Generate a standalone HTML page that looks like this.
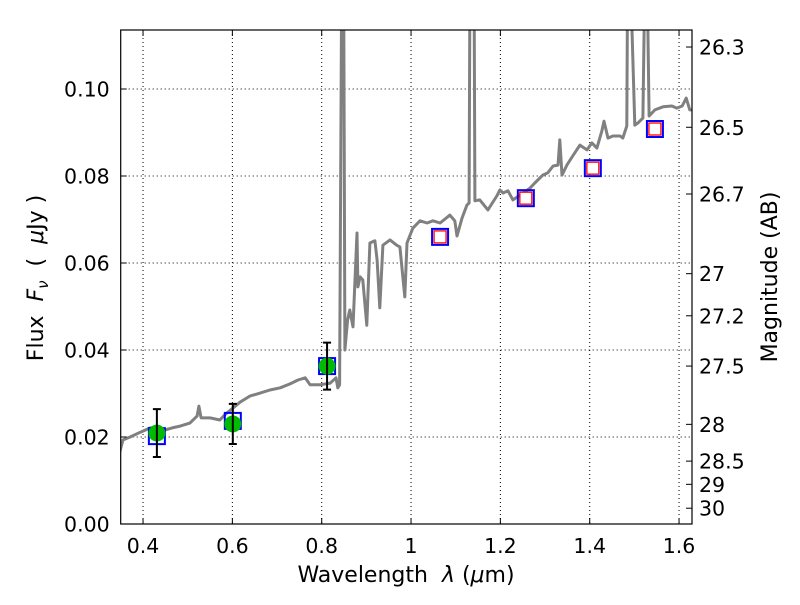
<!DOCTYPE html>
<html><head><meta charset="utf-8"><style>
body{margin:0;background:#fff}
svg text{font-family:"DejaVu Sans","Liberation Sans",sans-serif;fill:#000}
</style></head><body>
<svg id="chart" width="800" height="600" viewBox="0 0 800 600" xmlns="http://www.w3.org/2000/svg">
<defs><clipPath id="clip"><rect x="120.7" y="30" width="571.3" height="494"/></clipPath></defs>
<rect x="0" y="0" width="800" height="600" fill="#fff"/>
<g id="grid"></g>
<g id="plot" clip-path="url(#clip)"></g>
<rect x="120.7" y="30" width="571.3" height="494" fill="none" stroke="#000" stroke-width="1.2"/>
<g id="axes"></g>
<text x="406" y="582" font-size="22" text-anchor="middle" xml:space="preserve">Wavelength  <tspan font-style="italic">λ</tspan> (<tspan font-style="italic">μ</tspan>m)</text>
<text transform="translate(43,278) rotate(-90)" font-size="22" text-anchor="middle" xml:space="preserve">Flux  <tspan font-style="italic">F</tspan><tspan font-style="italic" font-size="15" dy="5">ν</tspan><tspan dy="-5">  (  </tspan><tspan font-style="italic">μ</tspan>Jy )</text>
<text transform="translate(777,277) rotate(-90)" font-size="22" text-anchor="middle">Magnitude (AB)</text>
</svg>
<script>
const specWave=[0.348,0.355,0.371,0.394,0.416,0.434,0.449,0.465,0.483,0.505,0.521,0.525,0.530,0.550,0.572,0.583,0.617,0.639,0.662,0.684,0.707,0.729,0.747,0.763,0.774,0.796,0.819,0.832,0.836,0.840,0.845,0.849,0.852,0.858,0.863,0.870,0.879,0.881,0.886,0.892,0.901,0.908,0.919,0.924,0.930,0.937,0.953,0.968,0.975,0.986,0.991,1.004,1.020,1.036,1.049,1.065,1.087,1.098,1.103,1.114,1.125,1.130,1.132,1.141,1.143,1.154,1.172,1.192,1.199,1.206,1.217,1.228,1.244,1.266,1.277,1.295,1.306,1.318,1.329,1.333,1.338,1.349,1.362,1.378,1.394,1.405,1.416,1.427,1.432,1.441,1.452,1.468,1.474,1.483,1.485,1.490,1.501,1.508,1.519,1.524,1.528,1.533,1.546,1.564,1.584,1.595,1.607,1.616,1.624,1.631];
const specFlux=[0.01655,0.0193,0.0200,0.0211,0.0221,0.0223,0.0216,0.0221,0.0225,0.0232,0.0248,0.0271,0.0244,0.0244,0.0239,0.0251,0.0280,0.0294,0.0301,0.0308,0.0313,0.0322,0.0331,0.0336,0.0320,0.0320,0.0324,0.0336,0.0313,0.0320,0.13,0.13,0.0400,0.0469,0.0492,0.0453,0.0669,0.0545,0.0568,0.0561,0.0457,0.0646,0.0651,0.0607,0.0497,0.0641,0.0653,0.0641,0.0637,0.0522,0.0646,0.0680,0.0697,0.0692,0.0697,0.0692,0.0710,0.0697,0.0662,0.0703,0.0733,0.0738,0.13,0.13,0.0743,0.0745,0.0722,0.0754,0.0768,0.0761,0.0766,0.0745,0.0756,0.0772,0.0784,0.0802,0.0807,0.0823,0.0825,0.0883,0.0802,0.0825,0.0846,0.0871,0.0860,0.0876,0.0864,0.0903,0.0926,0.0887,0.0892,0.0892,0.0887,0.0915,0.13,0.13,0.0917,0.0922,0.0933,0.13,0.13,0.0938,0.0952,0.0959,0.0961,0.0956,0.0961,0.0979,0.0952,0.0952];
const obsWave=[0.431,0.601,0.812];
const obsFlux=[0.0209,0.0230,0.0363];
const obsErr=[0.0055,0.0046,0.0054];
const modelWave=[0.431,0.601,0.812,1.065,1.257,1.407,1.546];
const modelFlux=[0.0202,0.0237,0.0363,0.066,0.0749,0.0818,0.0908];
const predWave=[1.065,1.257,1.407,1.546];
const predFlux=[0.066,0.0749,0.0818,0.0908];
const xTicks=[0.4,0.6,0.8,1.0,1.2,1.4,1.6];
const xTickLabels=["0.4","0.6","0.8","1","1.2","1.4","1.6"];
const yTicks=[0,0.02,0.04,0.06,0.08,0.10];
const yTickLabels=["0.00","0.02","0.04","0.06","0.08","0.10"];
const magTicks=[26.3,26.5,26.7,27,27.2,27.5,28,28.5,29,30];
const magTickLabels=["26.3","26.5","26.7","27","27.2","27.5","28","28.5","29","30"];

const NS="http://www.w3.org/2000/svg";
const L=120.7,R=692,T=30,B=524,X0=0.35,X1=1.629,Y0=0,Y1=0.11356;
const xs=v=>L+(v-X0)/(X1-X0)*(R-L);
const ys=v=>B-(v-Y0)/(Y1-Y0)*(B-T);
const magToFlux=m=>Math.pow(10,(23.9-m)/2.5);
function mk(tag,attrs,parent){const e=document.createElementNS(NS,tag);for(const k in attrs)e.setAttribute(k,attrs[k]);parent.appendChild(e);return e;}
const grid=document.getElementById('grid'),plot=document.getElementById('plot'),axes=document.getElementById('axes');

xTicks.forEach((v,i)=>{const x=xs(v);
 let g=mk('line',{x1:x,x2:x,y1:T,y2:B,stroke:'#000','stroke-width':1,'stroke-dasharray':'1,3'},grid);
 
 let t1=mk('line',{x1:x,x2:x,y1:B,y2:B-6,stroke:'#000','stroke-width':1},axes);
 
 let t2=mk('line',{x1:x,x2:x,y1:T,y2:T+6,stroke:'#000','stroke-width':1},axes);
 
 let tx=mk('text',{x:x,y:B+29,'font-size':20.5,'text-anchor':'middle'},axes);tx.textContent=xTickLabels[i];
 
});
yTicks.forEach((v,i)=>{const y=ys(v);
 let g=mk('line',{x1:L,x2:R,y1:y,y2:y,stroke:'#000','stroke-width':1,'stroke-dasharray':'1,3'},grid);
 
 let t1=mk('line',{x1:L,x2:L+6,y1:y,y2:y,stroke:'#000','stroke-width':1},axes);
 
 let tx=mk('text',{x:L-11,y:y+7.5,'font-size':20.5,'text-anchor':'end'},axes);tx.textContent=yTickLabels[i];
 
});
magTicks.forEach((m,i)=>{const y=ys(magToFlux(m));
 let t1=mk('line',{x1:R,x2:R-6,y1:y,y2:y,stroke:'#000','stroke-width':1},axes);
 
 let tx=mk('text',{x:R+7,y:y+7.5,'font-size':20.5,'text-anchor':'start'},axes);tx.textContent=magTickLabels[i];
 
});

let d=specWave.map((w,i)=>(i?'L':'M')+xs(w).toFixed(1)+','+ys(specFlux[i]).toFixed(1)).join(' ');
let sp=mk('path',{d:d,fill:'none',stroke:'#808080','stroke-width':3,'stroke-linejoin':'round'},plot);


modelWave.forEach((w,i)=>{const x=xs(w),y=ys(modelFlux[i]);
 let r=mk('rect',{x:x-8,y:y-8,width:16,height:16,fill:'none',stroke:'#0000ff','stroke-width':2},plot);
 
});
predWave.forEach((w,i)=>{const x=xs(w),y=ys(predFlux[i]);
 let r=mk('rect',{x:x-6,y:y-6,width:12,height:12,fill:'#fff',stroke:'#ff0000','stroke-width':1.3},plot);
 
});
obsWave.forEach((w,i)=>{const x=xs(w),y=ys(obsFlux[i]);
 let c=mk('circle',{cx:x,cy:y,r:8.5,fill:'#00bb00',stroke:'none'},plot);
 
 const y1=ys(obsFlux[i]+obsErr[i]),y2=ys(obsFlux[i]-obsErr[i]);
 let e=mk('path',{d:`M${x},${y1}L${x},${y2}M${x-4},${y1}L${x+4},${y1}M${x-4},${y2}L${x+4},${y2}`,stroke:'#000','stroke-width':2,fill:'none'},plot);
 
});
</script>
</body></html>
